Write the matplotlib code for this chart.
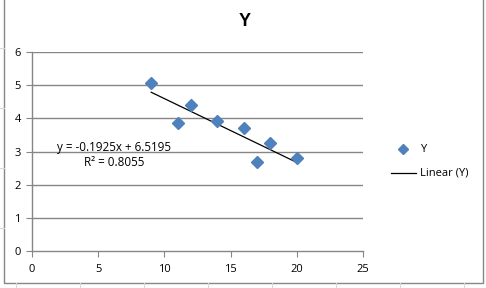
import matplotlib
matplotlib.use("Agg")
import matplotlib.pyplot as plt
from matplotlib.patches import Rectangle
from matplotlib.lines import Line2D
import numpy as np

x_vals = [9, 11, 12, 14, 16, 17, 18, 20]
y_vals = [5.08, 3.85, 4.41, 3.92, 3.72, 2.68, 3.25, 2.79]
slope = -0.1925
intercept = 6.5195
r_squared = 0.8055
x_ticks = [0, 5, 10, 15, 20, 25]
y_ticks = [0, 1, 2, 3, 4, 5, 6]
title = "Y"
series_name = "Y"
trend_name = "Linear (Y)"

W, H = 486, 288
fig = plt.figure(figsize=(W / 100, H / 100), dpi=100)
plt.rcParams['font.family'] = ['Open Sans', 'DejaVu Sans']
FS = 8.0

# spreadsheet background gridlines peeking out
for yy in [48, 108, 168, 228]:
    fig.add_artist(Line2D([0, 4 / W], [1 - yy / H] * 2, color='#d0d7e5', lw=0.8, transform=fig.transFigure))
for xx in [16, 80, 144, 208, 272, 336, 400, 464]:
    fig.add_artist(Line2D([xx / W] * 2, [0, 5 / H], color='#d0d7e5', lw=0.8, transform=fig.transFigure))
# chart frame
fig.add_artist(Rectangle((4 / W, 5 / H), 479 / W, 290 / H, fill=False, edgecolor='#868686', lw=1.0,
                         transform=fig.transFigure))

L, R, T, B = 32, 363, 52, 251
ax = fig.add_axes([L / W, 1 - B / H, (R - L) / W, (B - T) / H])
ax.set_xlim(0, 25)
ax.set_ylim(0, 6)
ax.set_xticks(x_ticks)
ax.set_yticks(y_ticks)
for s in ['top', 'right']:
    ax.spines[s].set_visible(False)
for s in ['left', 'bottom']:
    ax.spines[s].set_color('#868686')
    ax.spines[s].set_linewidth(1.0)
ax.tick_params(axis='both', direction='out', length=4, color='#868686', labelsize=FS, labelcolor='black')
ax.tick_params(axis='y', pad=4)
ax.tick_params(axis='x', pad=5)
for yv in y_ticks[1:]:
    ax.axhline(yv, color='#868686', lw=1.0, zorder=0)

ax.plot(x_vals, y_vals, linestyle='none', marker='D', markersize=6, color='#4f81bd', zorder=3)
xs = np.array([min(x_vals), max(x_vals)])
ax.plot(xs, slope * xs + intercept, color='black', lw=0.9, zorder=2)

sign = '-' if slope < 0 else ''
ax.text(114 / W, 1 - 147 / H, f"y = {sign}{abs(slope):.4f}x + {intercept:.4f}", transform=fig.transFigure,
        ha='center', va='center', fontsize=FS + 0.4)
ax.text(114 / W, 1 - 163 / H, f"R\u00b2 = {r_squared:.4f}", transform=fig.transFigure,
        ha='center', va='center', fontsize=FS + 0.4)

fig.text(245 / W, 1 - 22 / H, title, ha='center', va='center', fontsize=13, fontweight='bold',
         family=['Liberation Sans', 'DejaVu Sans'])

# legend
fig.add_artist(Line2D([403 / W], [1 - 149 / H], marker='D', markersize=5.5, color='#4f81bd', linestyle='none',
                      transform=fig.transFigure))
fig.text(420 / W, 1 - 149 / H, series_name, ha='left', va='center', fontsize=FS)
fig.add_artist(Line2D([391 / W, 416 / W], [1 - 173 / H] * 2, color='black', lw=0.9, transform=fig.transFigure))
fig.text(420 / W, 1 - 173 / H, trend_name, ha='left', va='center', fontsize=FS)

fig.savefig("out.png", dpi=100)
